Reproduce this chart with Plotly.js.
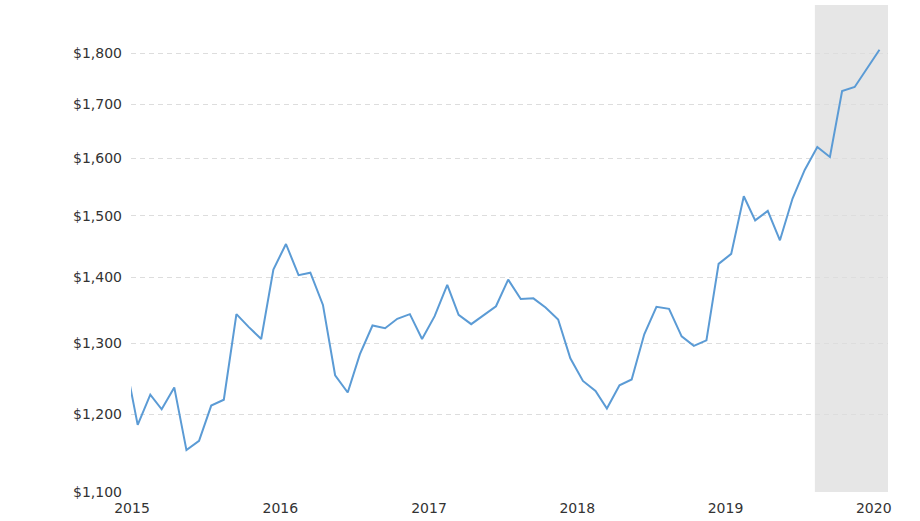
<!DOCTYPE html>
<html>
<head>
<meta charset="utf-8">
<script src="https://cdn.plot.ly/plotly-3.0.1.min.js"></script>
<style>
  html, body { margin: 0; padding: 0; background: #ffffff; }
  #chart { width: 920px; height: 521px; }
</style>
</head>
<body>
<div id="chart"></div>
<script>
// Monthly dates (mid-month) and prices
const months = [
  "2014-12-15",
  "2015-01-15","2015-02-15","2015-03-15","2015-04-15","2015-05-15","2015-06-15",
  "2015-07-15","2015-08-15","2015-09-15","2015-10-15","2015-11-15","2015-12-15",
  "2016-01-15","2016-02-15","2016-03-15","2016-04-15","2016-05-15","2016-06-15",
  "2016-07-15","2016-08-15","2016-09-15","2016-10-15","2016-11-15","2016-12-15",
  "2017-01-15","2017-02-15","2017-03-15","2017-04-15","2017-05-15","2017-06-15",
  "2017-07-15","2017-08-15","2017-09-15","2017-10-15","2017-11-15","2017-12-15",
  "2018-01-15","2018-02-15","2018-03-15","2018-04-15","2018-05-15","2018-06-15",
  "2018-07-15","2018-08-15","2018-09-15","2018-10-15","2018-11-15","2018-12-15",
  "2019-01-15","2019-02-15","2019-03-15","2019-04-15","2019-05-15","2019-06-15",
  "2019-07-15","2019-08-15","2019-09-15","2019-10-15","2019-11-15","2019-12-15",
  "2020-01-15"
];
const prices = [
  1275,
  1186, 1227, 1207, 1237, 1153, 1165,
  1212, 1220, 1343, 1324, 1306, 1412,
  1453, 1403, 1407, 1357, 1254, 1230,
  1284, 1326, 1322, 1336, 1343, 1306,
  1340, 1388, 1342, 1328, 1341, 1355,
  1396, 1366, 1367, 1353, 1335, 1278,
  1246, 1232, 1208, 1240, 1248, 1313,
  1354, 1351, 1310, 1296, 1304, 1421,
  1437, 1533, 1492, 1508, 1459, 1529,
  1579, 1620, 1602, 1725, 1733, 1769,
  1807
];
const yTickValues = [1100, 1200, 1300, 1400, 1500, 1600, 1700, 1800];
const yTickLabels = ["$1,100", "$1,200", "$1,300", "$1,400", "$1,500", "$1,600", "$1,700", "$1,800"];
const xRange = ["2014-12-29 12:00", "2020-02-05"];
const shadeStart = "2019-08-09";

const trace = {
  x: months,
  y: prices,
  type: "scatter",
  mode: "lines",
  line: { color: "#5b9bd5", width: 2 },
  hoverinfo: "x+y"
};

const layout = {
  width: 920,
  height: 521,
  margin: { l: 131, r: 32, t: 5, b: 29, pad: 0 },
  paper_bgcolor: "#ffffff",
  plot_bgcolor: "#ffffff",
  showlegend: false,
  font: { family: "DejaVu Sans, Verdana, sans-serif", size: 14, color: "#333333" },
  xaxis: {
    type: "date",
    range: xRange,
    showgrid: false,
    zeroline: false,
    showline: false,
    ticks: "",
    dtick: "M12",
    tick0: "2015-01-01",
    tickformat: "%Y",
    ticklabelstandoff: 6,
    tickfont: { family: "DejaVu Sans, Verdana, sans-serif", size: 14, color: "#333333" }
  },
  yaxis: {
    type: "log",
    range: [Math.log10(1100), Math.log10(1900)],
    tickmode: "array",
    tickvals: yTickValues,
    ticktext: yTickLabels,
    showgrid: true,
    gridcolor: "#dddddd",
    gridwidth: 1,
    griddash: "5px,4px",
    zeroline: false,
    showline: false,
    ticks: "",
    ticklabelstandoff: 8,
    tickfont: { family: "DejaVu Sans, Verdana, sans-serif", size: 14, color: "#333333" }
  },
  shapes: [{
    type: "rect",
    xref: "x",
    yref: "paper",
    x0: shadeStart,
    x1: xRange[1],
    y0: 0,
    y1: 1,
    fillcolor: "#e6e6e6",
    line: { width: 0 },
    layer: "below"
  }]
};

Plotly.newPlot("chart", [trace], layout, { displayModeBar: false, responsive: false });
</script>
</body>
</html>
